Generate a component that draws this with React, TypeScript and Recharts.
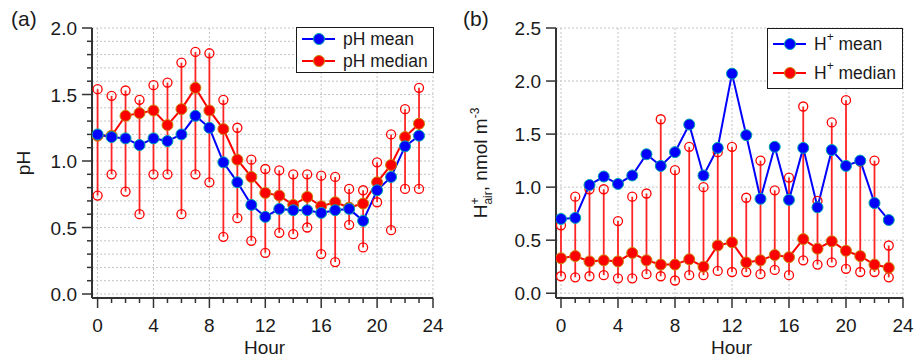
import React from "react";
import { ComposedChart, Line, XAxis, YAxis, CartesianGrid, ErrorBar, Legend, Label } from "recharts";

const FONT = '"Liberation Sans", Arial, sans-serif';
const AXIS = "#333";
const GRID = "#c4c4c4";
const BLUE = "#0000ff";
const RED = "#ff0000";
const BAR = "#ff2424";
const TEXT = "#1a1a1a";

const hours = [0, 1, 2, 3, 4, 5, 6, 7, 8, 9, 10, 11, 12, 13, 14, 15, 16, 17, 18, 19, 20, 21, 22, 23];
const hourTicks = [0, 1, 2, 3, 4, 5, 6, 7, 8, 9, 10, 11, 12, 13, 14, 15, 16, 17, 18, 19, 20, 21, 22, 23, 24];
const majorHours = [0, 4, 8, 12, 16, 20, 24];
const phTicks = [0, 0.1, 0.2, 0.3, 0.4, 0.5, 0.6, 0.7, 0.8, 0.9, 1.0, 1.1, 1.2, 1.3, 1.4, 1.5, 1.6, 1.7, 1.8, 1.9, 2.0];
const hTicks = [0, 0.5, 1.0, 1.5, 2.0, 2.5];

// panel (a): pH
const phMean = [1.20, 1.18, 1.17, 1.12, 1.17, 1.15, 1.20, 1.34, 1.25, 0.99, 0.84, 0.67, 0.58, 0.64, 0.63, 0.63, 0.61, 0.63, 0.64, 0.55, 0.78, 0.88, 1.11, 1.19];
const phMedian = [1.19, 1.19, 1.34, 1.36, 1.38, 1.27, 1.39, 1.55, 1.38, 1.24, 1.01, 0.88, 0.76, 0.74, 0.67, 0.73, 0.66, 0.69, 0.65, 0.68, 0.84, 0.97, 1.18, 1.28];
const phUpper = [1.54, 1.49, 1.53, 1.46, 1.57, 1.59, 1.74, 1.82, 1.81, 1.46, 1.25, 1.01, 0.94, 0.93, 0.90, 0.90, 0.89, 0.88, 0.79, 0.78, 0.99, 1.20, 1.39, 1.55];
const phLower = [0.74, 0.90, 0.77, 0.60, 0.90, 0.90, 0.60, 0.90, 0.84, 0.43, 0.57, 0.40, 0.31, 0.46, 0.45, 0.50, 0.30, 0.24, 0.52, 0.35, 0.69, 0.48, 0.79, 0.79];

// panel (b): H+ in air, nmol m-3
const hMean = [0.70, 0.71, 1.02, 1.10, 1.03, 1.11, 1.31, 1.20, 1.33, 1.59, 1.11, 1.37, 2.07, 1.49, 0.89, 1.38, 0.88, 1.37, 0.81, 1.35, 1.20, 1.25, 0.85, 0.69];
const hMedian = [0.33, 0.35, 0.30, 0.31, 0.30, 0.38, 0.31, 0.27, 0.27, 0.32, 0.25, 0.45, 0.48, 0.29, 0.31, 0.36, 0.34, 0.51, 0.42, 0.49, 0.40, 0.35, 0.27, 0.24];
const hUpper = [0.64, 0.91, 0.98, 0.98, 0.68, 0.91, 0.94, 1.64, 1.16, 1.38, 1.00, 1.33, 1.38, 0.90, 1.25, 0.97, 1.09, 1.76, 0.87, 1.61, 1.82, 1.24, 1.25, 0.45];
const hLower = [0.16, 0.15, 0.16, 0.17, 0.14, 0.14, 0.18, 0.16, 0.12, 0.17, 0.17, 0.21, 0.20, 0.20, 0.18, 0.22, 0.17, 0.31, 0.27, 0.29, 0.23, 0.20, 0.20, 0.15];

const build = (mean: number[], median: number[], upper: number[], lower: number[]) =>
  hours.map((h, i) => ({
    hour: h,
    mean: mean[i],
    median: median[i],
    upper: upper[i],
    lower: lower[i],
    err: [median[i] - lower[i], upper[i] - median[i]],
  }));

const phData = build(phMean, phMedian, phUpper, phLower);
const hData = build(hMean, hMedian, hUpper, hLower);

const markers: Record<string, { fill: string; edge: string }> = {
  mean: { fill: BLUE, edge: "#00a8a8" },
  median: { fill: RED, edge: "#c8860a" },
};

function HourTick({ x, y, payload }: any) {
  const major = payload.value % 4 === 0;
  return (
    <g>
      <line x1={x} x2={x} y1={y} y2={y + (major ? 10 : 5)} stroke={AXIS} strokeWidth={1.5} />
      {major && (
        <text x={x} y={y + 34} textAnchor="middle" fontSize={19} fill={TEXT} fontFamily={FONT}>
          {payload.value}
        </text>
      )}
    </g>
  );
}

function ValueTick({ x, y, payload }: any) {
  const v = payload.value;
  const major = Math.abs(v * 2 - Math.round(v * 2)) < 1e-6;
  return (
    <g>
      <line x1={x} x2={x - (major ? 10 : 5)} y1={y} y2={y} stroke={AXIS} strokeWidth={1.5} />
      {major && (
        <text x={x - 15} y={y + 7} textAnchor="end" fontSize={19} fill={TEXT} fontFamily={FONT}>
          {v.toFixed(1)}
        </text>
      )}
    </g>
  );
}

const keyOf = (it: any) => it?.dataKey ?? it?.payload?.dataKey;

const legendBox = (labels: Record<string, React.ReactNode>, w: number, h: number) => (props: any) => {
  const items = (props.payload ?? []).filter((it: any) => markers[keyOf(it)]);
  const ordered = ["mean", "median"].filter((k) => items.some((it: any) => keyOf(it) === k));
  return (
    <div
      style={{
        width: w,
        height: h,
        boxSizing: "border-box",
        border: `1.5px solid ${TEXT}`,
        background: "#fff",
        display: "flex",
        flexDirection: "column",
        justifyContent: "space-around",
        fontFamily: FONT,
        fontSize: 17.5,
        color: TEXT,
      }}
    >
      {ordered.map((k) => {
        const m = markers[k];
        return (
          <div key={k} style={{ display: "flex", alignItems: "center", height: 22 }}>
            <svg width={46} height={22} style={{ flex: "none" }}>
              <line x1={5} x2={38} y1={11} y2={11} stroke={m.fill} strokeWidth={2} />
              <circle cx={22} cy={11} r={5.5} fill={m.fill} stroke={m.edge} strokeWidth={1} />
            </svg>
            <span style={{ whiteSpace: "nowrap", lineHeight: "22px" }}>{labels[k]}</span>
          </div>
        );
      })}
    </div>
  );
};

function Panel({
  data,
  yDomain,
  xDomain,
  yTicks,
  width,
  marginLeft,
  marginRight,
  yLabel,
  legend,
  legendPos,
}: any) {
  return (
    <ComposedChart
      width={width}
      height={360}
      data={data}
      margin={{ top: 28, right: marginRight, bottom: 22, left: marginLeft }}
    >
      <CartesianGrid stroke={GRID} strokeDasharray="2 2" verticalValues={majorHours} />
      <XAxis
        dataKey="hour"
        type="number"
        domain={xDomain}
        allowDataOverflow
        ticks={hourTicks}
        interval={0}
        height={40}
        tickSize={0}
        tickMargin={0}
        tickLine={false}
        axisLine={{ stroke: AXIS, strokeWidth: 2 }}
        tick={<HourTick />}
      >
        <Label
          content={(p: any) => {
            const vb = p.viewBox;
            return (
              <text x={vb.x + vb.width / 2 + 2} y={vb.y + 56} textAnchor="middle" fontSize={19} fill={TEXT} fontFamily={FONT}>
                Hour
              </text>
            );
          }}
        />
      </XAxis>
      <YAxis
        type="number"
        domain={yDomain}
        allowDataOverflow
        ticks={yTicks}
        interval={0}
        width={60}
        tickSize={0}
        tickMargin={0}
        tickLine={false}
        axisLine={{ stroke: AXIS, strokeWidth: 2 }}
        tick={<ValueTick />}
      >
        <Label content={yLabel} />
      </YAxis>
      <Legend
        layout="horizontal"
        verticalAlign="middle"
        wrapperStyle={{ left: legendPos[0], top: legendPos[1], width: "auto" }}
        content={legend}
      />
      <Line
        dataKey="upper"
        stroke="none"
        legendType="none"
        activeDot={false}
        isAnimationActive={false}
        dot={{ r: 4.5, fill: "none", stroke: RED, strokeWidth: 1.3 }}
      />
      <Line
        dataKey="lower"
        stroke="none"
        legendType="none"
        activeDot={false}
        isAnimationActive={false}
        dot={{ r: 4.5, fill: "none", stroke: RED, strokeWidth: 1.3 }}
      />
      <Line
        dataKey="median"
        name="median"
        stroke={RED}
        strokeWidth={2}
        activeDot={false}
        isAnimationActive={false}
        dot={{ r: 5.5, fill: RED, stroke: markers.median.edge, strokeWidth: 1 }}
      >
        <ErrorBar dataKey="err" direction="y" width={0} stroke={BAR} strokeWidth={1.8} />
      </Line>
      <Line
        dataKey="mean"
        name="mean"
        stroke={BLUE}
        strokeWidth={2}
        activeDot={false}
        isAnimationActive={false}
        dot={{ r: 5.5, fill: BLUE, stroke: markers.mean.edge, strokeWidth: 1 }}
      />
    </ComposedChart>
  );
}

const phLabel = (p: any) => {
  const vb = p.viewBox;
  return (
    <text
      transform={`translate(${vb.x - 2},${vb.y + vb.height / 2}) rotate(-90)`}
      textAnchor="middle"
      fontSize={19}
      fill={TEXT}
      fontFamily={FONT}
    >
      pH
    </text>
  );
};

const hLabel = (p: any) => {
  const vb = p.viewBox;
  return (
    <text
      transform={`translate(${vb.x - 9},${vb.y + vb.height / 2}) rotate(-90)`}
      textAnchor="middle"
      fontSize={19}
      fill={TEXT}
      fontFamily={FONT}
    >
      H
      <tspan fontSize={12} dy={-8}>+</tspan>
      <tspan fontSize={12} dx={-7} dy={13}>air</tspan>
      <tspan dy={-5}>, nmol m</tspan>
      <tspan fontSize={12} dy={-8}>-3</tspan>
    </text>
  );
};

const sup = (s: string) => <sup style={{ fontSize: 12, verticalAlign: 9, lineHeight: 0 }}>{s}</sup>;

export default function App() {
  return (
    <div style={{ position: "absolute", left: 0, top: 0, width: 914, height: 360, background: "#fff", fontFamily: FONT }}>
      <div style={{ position: "absolute", left: 0, top: 0 }}>
        <Panel
          data={phData}
          yDomain={[-0.03, 2.0]}
          xDomain={[-0.4, 24]}
          yTicks={phTicks}
          width={460}
          marginLeft={32}
          marginRight={27}
          yLabel={phLabel}
          legend={legendBox({ mean: "pH mean", median: "pH median" }, 138, 46)}
          legendPos={[296, 27]}
        />
      </div>
      <div style={{ position: "absolute", left: 460, top: 0 }}>
        <Panel
          data={hData}
          yDomain={[-0.045, 2.5]}
          xDomain={[-0.35, 24]}
          yTicks={hTicks}
          width={454}
          marginLeft={36}
          marginRight={11}
          yLabel={hLabel}
          legend={legendBox(
            {
              mean: <>H{sup("+")} mean</>,
              median: <>H{sup("+")} median</>,
            },
            136,
            61
          )}
          legendPos={[307, 28]}
        />
      </div>
      <span style={{ position: "absolute", left: 11, top: 7, fontSize: 21, color: TEXT }}>(a)</span>
      <span style={{ position: "absolute", left: 463, top: 7, fontSize: 21, color: TEXT }}>(b)</span>
    </div>
  );
}
